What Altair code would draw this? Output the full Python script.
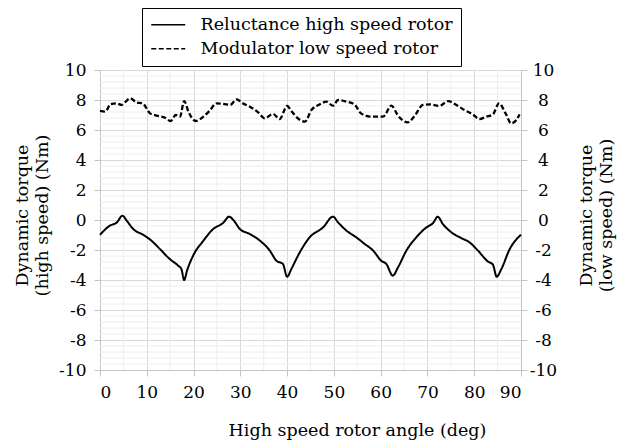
import altair as alt
import pandas as pd

# High speed (reluctance) rotor torque
hs_angle = [0, 2.1, 3.6, 4.8, 5.7, 7.1, 9.3, 11.0, 12.8, 14.9, 16.7, 17.4, 18.0, 18.6, 19.9,
            22.1, 24.2, 26.3, 27.6, 28.5, 29.9, 32.0, 34.2, 36.3, 37.7, 39.1, 40.0, 40.9,
            42.7, 44.8, 47.7, 49.8, 50.9, 52.7, 54.8, 56.6, 58.4, 60.1, 61.2, 62.6, 63.7,
            65.5, 67.6, 69.8, 71.2, 72.2, 73.3, 75.1, 77.2, 79.0, 80.8, 82.9, 84.0, 84.8,
            85.8, 87.6, 90]
hs_torque = [-0.98, -0.38, -0.16, 0.29, -0.04, -0.6, -1.0, -1.38, -1.93, -2.6, -3.04, -3.27,
             -4.0, -3.38, -2.38, -1.38, -0.6, -0.2, 0.22, 0.0, -0.6, -0.93, -1.38, -2.04,
             -2.71, -2.93, -3.78, -3.27, -2.16, -1.16, -0.49, 0.22, -0.16, -0.71, -1.16,
             -1.6, -2.04, -2.71, -2.93, -3.71, -3.16, -2.04, -1.16, -0.49, -0.2, 0.22,
             -0.27, -0.82, -1.2, -1.49, -2.04, -2.76, -2.98, -3.78, -3.27, -1.93, -0.98]

# Low speed (modulator) rotor torque
ls_angle = [0, 1.1, 2.3, 3.6, 4.6, 5.3, 6.5, 7.8, 9.1, 10.7, 12.1, 13.9, 15.1, 16.2, 17.1,
            18.0, 18.9, 20.5, 22.1, 23.4, 24.9, 26.7, 27.8, 29.2, 30.5, 32.4, 33.8, 35.2,
            37.0, 38.4, 40.0, 40.9, 42.3, 43.8, 45.2, 47.0, 48.4, 49.8, 50.9, 52.7, 54.4,
            55.8, 58.0, 60.5, 62.3, 63.7, 65.8, 67.3, 69.0, 70.5, 72.5, 74.4, 76.2, 77.9,
            79.7, 81.1, 82.6, 84.0, 85.3, 86.7, 87.9, 89.0, 89.7]
ls_torque = [7.27, 7.22, 7.73, 7.78, 7.67, 7.84, 8.11, 7.84, 7.78, 7.11, 6.96, 6.82, 6.6,
             7.0, 6.89, 7.93, 7.22, 6.6, 6.89, 7.27, 7.78, 7.73, 7.67, 8.04, 7.78, 7.49,
             7.18, 6.78, 7.07, 6.73, 7.6, 7.27, 6.78, 6.56, 7.33, 7.71, 7.89, 7.62, 8.0,
             7.89, 7.71, 7.11, 6.89, 6.89, 7.62, 6.96, 6.51, 6.96, 7.67, 7.71, 7.6, 7.93,
             7.67, 7.33, 7.04, 6.73, 6.89, 7.04, 7.78, 7.11, 6.44, 6.67, 7.04]

series_names = ["Reluctance high speed rotor", "Modulator low speed rotor"]
x_ticks = list(range(0, 91, 10))
y_ticks = list(range(-10, 11, 2))
x_minor = list(range(5, 90, 10))
y_minor = [round(-10 + 0.4 * i, 2) for i in range(51) if (i % 5) != 0]

FONT = "DejaVu Serif"
TITLE_SIZE = 17.5
TICK_SIZE = 17
GRID = "#d9d9d9"
MINOR = "#eeeeee"
AXISC = "#c4c4c4"

hs = pd.DataFrame({"angle": hs_angle, "torque": hs_torque, "series": series_names[0]})
ls = pd.DataFrame({"angle": ls_angle, "torque": ls_torque, "series": series_names[1]})

xscale = alt.Scale(domain=[0, 90], nice=False)
yscale = alt.Scale(domain=[-10, 10], nice=False)

dash = alt.StrokeDash(
    "series:N",
    scale=alt.Scale(domain=series_names, range=[[1, 0], [5, 2.5]]),
    legend=alt.Legend(
        title=None, orient="none", legendX=42, legendY=-62,
        strokeColor="black", fillColor="white", padding=8,
        symbolType="M-1,0H3.53", symbolSize=225, symbolStrokeWidth=1.6,
        symbolStrokeColor="black", labelLimit=400,
        labelFont=FONT, labelFontSize=TITLE_SIZE, labelColor="black", rowPadding=5,
        cornerRadius=0, labelOffset=33,
    ),
)

x_axis = alt.Axis(values=x_ticks, title="High speed rotor angle (deg)", grid=True,
                  gridColor=GRID, domainColor=AXISC, tickColor=AXISC,
                  tickSize=6, labelFont=FONT, labelFontSize=TICK_SIZE, labelColor="black",
                  labelPadding=8, titleFont=FONT, titleFontSize=TITLE_SIZE,
                  titleFontWeight="normal", titleColor="black",
                  titleX=257, titleY=65, titleAlign="center", titleBaseline="alphabetic")

axis_common = dict(
    values=y_ticks, grid=True, gridColor=GRID, domainColor=AXISC, tickColor=AXISC,
    tickSize=6, labelFont=FONT, labelFontSize=TICK_SIZE, labelColor="black",
    titleFont=FONT, titleFontSize=TITLE_SIZE, titleFontWeight="normal", titleColor="black",
    labelExpr="'' + datum.value", titleAngle=270, titleY=145, titleAlign="center",
    titleBaseline="middle", titleLineHeight=20,
)
y_left_axis = alt.Axis(orient="left", title=["Dynamic torque", "(high speed) (Nm)"],
                       labelPadding=8, titleX=-78, **axis_common)
y_right_axis = alt.Axis(orient="right", title=["Dynamic torque", "(low speed) (Nm)"],
                        labelPadding=16, labelAlign="center", titleX=65, **axis_common)

gx = alt.Chart(pd.DataFrame({"v": x_minor})).mark_rule(color=MINOR, strokeWidth=1).encode(
    x=alt.X("v:Q", scale=xscale, axis=x_axis))
gy = alt.Chart(pd.DataFrame({"v": y_minor})).mark_rule(color=MINOR, strokeWidth=1).encode(
    y=alt.Y("v:Q", scale=yscale, axis=y_left_axis))

solid = alt.Chart(hs).mark_line(color="black", strokeWidth=2, interpolate="monotone").encode(
    x=alt.X("angle:Q", scale=xscale, axis=x_axis),
    y=alt.Y("torque:Q", scale=yscale, axis=y_left_axis),
    strokeDash=dash,
)

dashed = alt.Chart(ls).mark_line(color="black", strokeWidth=2.3, interpolate="monotone").encode(
    x=alt.X("angle:Q", scale=xscale, axis=x_axis),
    y=alt.Y("torque:Q", scale=yscale, axis=y_right_axis),
    strokeDash=dash,
)

left = alt.layer(gx, gy, solid)
chart = alt.layer(left, dashed).resolve_scale(y="independent").properties(
    width=421, height=300, autosize="none",
    padding={"left": 100, "top": 70, "right": 98, "bottom": 73},
).configure_view(stroke=None).configure(background="white")

chart.save("out.html", embed_options={"renderer": "svg", "actions": False})
